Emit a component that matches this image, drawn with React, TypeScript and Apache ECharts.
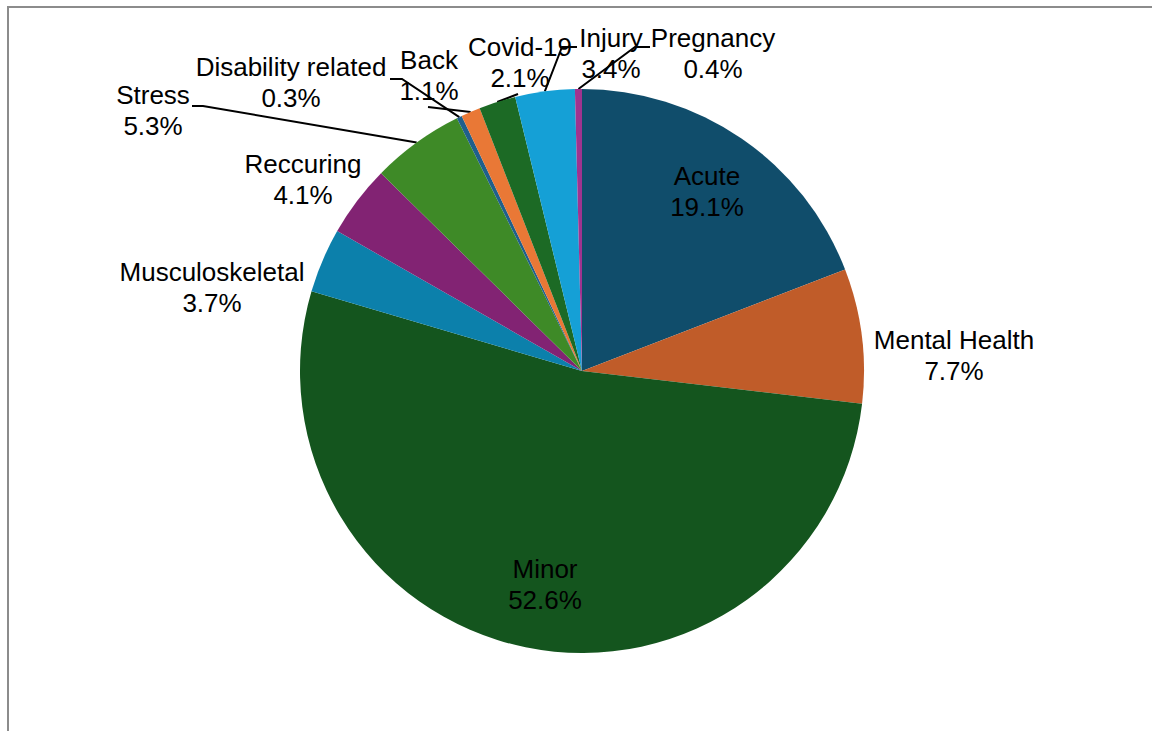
import React, { useEffect, useRef } from "react";
import * as echarts from "echarts";

// ---- Data ----
const categories = [
  "Acute",
  "Mental Health",
  "Minor",
  "Musculoskeletal",
  "Reccuring",
  "Stress",
  "Disability related",
  "Back",
  "Covid-19",
  "Injury",
  "Pregnancy",
];
const shares = [19.1, 7.7, 52.6, 3.7, 4.1, 5.3, 0.3, 1.1, 2.1, 3.4, 0.4];

// ---- Styling / layout ----
const colors = [
  "#104d6b",
  "#c05c29",
  "#14551e",
  "#0c80ab",
  "#822373",
  "#3e8a27",
  "#1f5f8c",
  "#e97836",
  "#1c6a25",
  "#15a0d6",
  "#a0338f",
];
// label block centres
const labelCenters: number[][] = [
  [707, 191],
  [954, 355],
  [545, 584],
  [212, 287],
  [303, 179],
  [153, 110],
  [291, 82],
  [429, 75],
  [520, 62],
  [611, 53],
  [713, 53],
];
// extra leader-line points (after the slice anchor); empty = no line
const leaderPoints: number[][][] = [
  [],
  [],
  [],
  [],
  [],
  [[203, 106], [192, 106]],
  [[402, 79], [390, 79]],
  [[428, 107]],
  [[518, 94]],
  [[562, 47], [577, 47]],
  [[635, 47], [650, 47]],
];

export default function App() {
  const ref = useRef<HTMLDivElement>(null);
  useEffect(() => {
    if (!ref.current) return;
    const chart = echarts.init(ref.current, undefined, { renderer: "svg" });
    const data = categories.map((name, i) => ({
      name,
      value: shares[i],
      itemStyle: { color: colors[i] },
      labelLine: { show: leaderPoints[i].length > 0 },
    }));
    chart.setOption({
      animation: false,
      backgroundColor: "#ffffff",
      graphic: [
        {
          type: "rect",
          shape: { x: 8, y: 7, width: 3000, height: 3000 },
          style: { fill: "none", stroke: "#8c8c8c", lineWidth: 2 },
          silent: true,
        },
      ],
      series: [
        {
          type: "pie",
          center: [582, 371],
          radius: 282,
          startAngle: 90,
          clockwise: true,
          avoidLabelOverlap: false,
          itemStyle: { borderWidth: 0 },
          label: {
            show: true,
            position: "outside",
            color: "#000000",
            fontFamily: "'Liberation Sans', Arial, sans-serif",
            fontSize: 26,
            lineHeight: 31,
            align: "center",
            formatter: (p: any) => `${p.name}\n${Number(p.value).toFixed(1)}%`,
          },
          labelLine: {
            show: true,
            lineStyle: { color: "#000000", width: 2 },
          },
          labelLayout: (params: any) => {
            const i = params.dataIndex;
            const c = labelCenters[i];
            const res: any = {
              x: c[0],
              y: c[1],
              align: "center",
              verticalAlign: "middle",
              hideOverlap: false,
              moveOverlap: null,
            };
            const pts = leaderPoints[i];
            if (pts.length > 0 && params.labelLinePoints && params.labelLinePoints[0]) {
              res.labelLinePoints = [params.labelLinePoints[0], ...pts];
            }
            return res;
          },
          data,
        },
      ],
    });
    return () => chart.dispose();
  }, []);
  return (
    <div
      ref={ref}
      style={{ position: "absolute", left: 0, top: 0, width: 1152, height: 731 }}
    />
  );
}
